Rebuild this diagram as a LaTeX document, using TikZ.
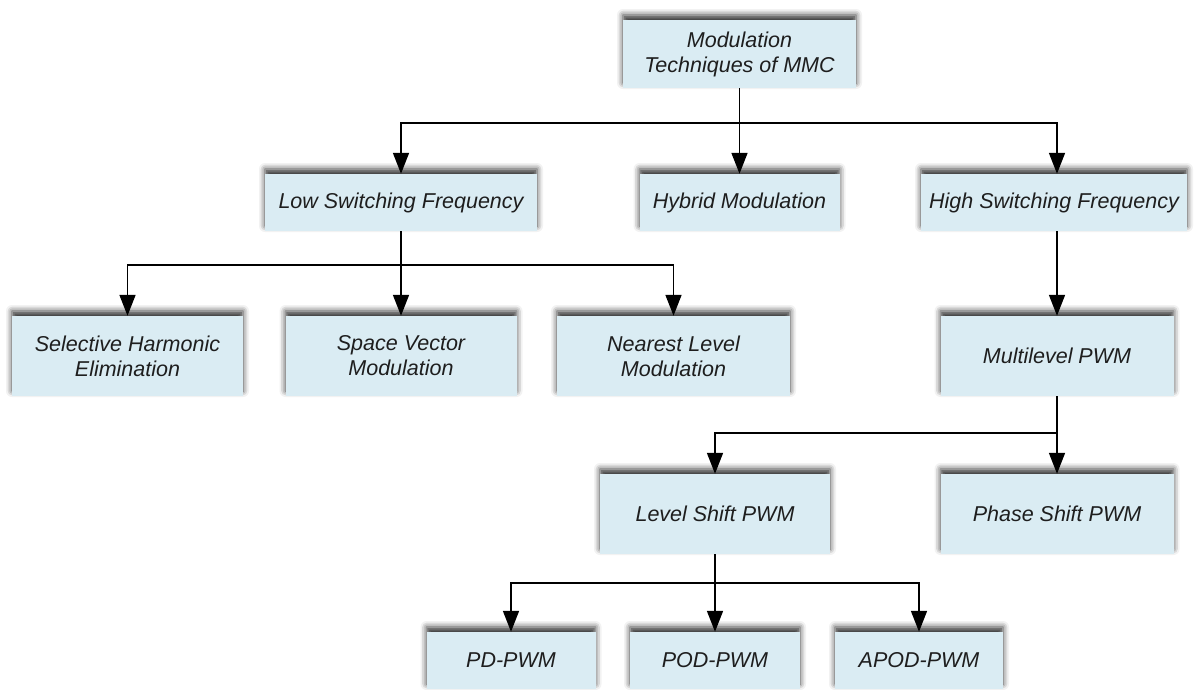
\documentclass[tikz,border=0pt]{standalone}
\usepackage{fontspec}
\setmainfont{Liberation Sans}
\usetikzlibrary{arrows.meta,shadows.blur}
\definecolor{boxfill}{RGB}{218,236,243}
\definecolor{boxtext}{RGB}{30,30,30}
\tikzset{
  tbox/.style={rectangle, fill=boxfill, draw=none, align=center,
    text=boxtext, font=\fontsize{21.5}{25}\selectfont\itshape,
    inner sep=0pt,
    blur shadow={shadow xshift=0pt, shadow yshift=5pt,
                 shadow blur radius=6pt, shadow opacity=80}},
  short/.style={tbox, minimum height=57pt},
  tall/.style={tbox, minimum height=80pt},
  conn/.style={line width=1.6pt, draw=black},
  arr/.style={conn, -{Triangle[length=21pt,width=16pt]}}
}
\begin{document}
\begin{tikzpicture}[x=1pt,y=-1pt]
\useasboundingbox (0,0) rectangle (1195,689);

% root
\node[tbox, minimum width=233pt, minimum height=68pt] (root) at (739.5,54) {Modulation\\Techniques of MMC};

% switching-frequency families
\node[short, minimum width=272pt] (low) at (401,202.5) {Low Switching Frequency};
\node[short, minimum width=200pt] (hyb) at (739.5,202.5) {Hybrid Modulation};
\node[short, minimum width=266pt] (high) at (1054,202.5) {High Switching Frequency};

% low-frequency methods
\node[tall, minimum width=231pt] (she) at (127.5,356) {Selective Harmonic\\Elimination};
\node[tall, minimum width=231pt] (svm) at (401,356) {Space Vector\\Modulation};
\node[tall, minimum width=233pt] (nlm) at (673.5,356) {Nearest Level\\Modulation};

% high-frequency methods
\node[tall, minimum width=233pt] (mpwm) at (1057,356) {Multilevel PWM};
\node[tall, minimum width=230pt] (ls) at (715,514) {Level Shift PWM};
\node[tall, minimum width=233pt] (ps) at (1057,514) {Phase Shift PWM};

% level-shift variants
\node[short, minimum width=169pt] (pd) at (511,660.5) {PD-PWM};
\node[short, minimum width=170pt] (pod) at (715,660.5) {POD-PWM};
\node[short, minimum width=168pt] (apod) at (919,660.5) {APOD-PWM};

% branch points
\coordinate (j1) at (739.5,123);
\coordinate (j2) at (401,265);
\coordinate (j3) at (1057,433);
\coordinate (j4) at (715,583);

% connectors
\draw[conn] (root.south) -- (j1);
\draw[arr] (j1) -| (low.north);
\draw[arr] (j1) -- (hyb.north);
\draw[arr] (j1) -| ([xshift=3pt]high.north);

\draw[conn] (low.south) -- (j2);
\draw[arr] (j2) -| (she.north);
\draw[arr] (j2) -- (svm.north);
\draw[arr] (j2) -| (nlm.north);

\draw[arr] ([xshift=3pt]high.south) -- (mpwm.north);

\draw[conn] (mpwm.south) -- (j3);
\draw[arr] (j3) -| (ls.north);
\draw[arr] (j3) -- (ps.north);

\draw[conn] (ls.south) -- (j4);
\draw[arr] (j4) -| (pd.north);
\draw[arr] (j4) -- (pod.north);
\draw[arr] (j4) -| (apod.north);
\end{tikzpicture}
\end{document}
